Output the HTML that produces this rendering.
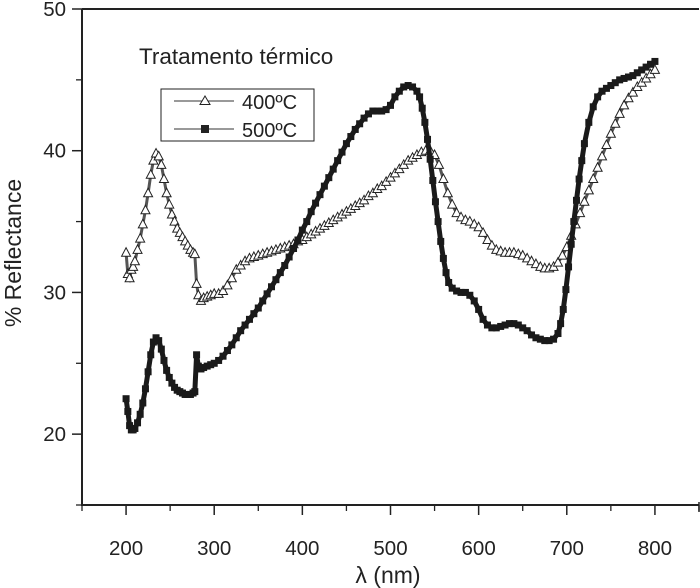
<!DOCTYPE html>
<html><head><meta charset="utf-8"><style>
html,body{margin:0;padding:0;background:#fff;}
svg{display:block;font-family:"Liberation Sans",Arial,sans-serif;}
</style></head><body>
<svg id="chart" width="700" height="588" viewBox="0 0 700 588" xmlns="http://www.w3.org/2000/svg">
<g id="axes"></g>
<g id="series"></g>
<text x="139" y="64" font-size="22.5" fill="#222">Tratamento térmico</text>
<g>
<rect x="161" y="89" width="153" height="52" fill="#fff" stroke="#222" stroke-width="1"/>
<g>
<line x1="174" y1="101" x2="234" y2="101" stroke="#333" stroke-width="1"/>
<polygon points="205,96 210,104.5 200,104.5" fill="#fff" stroke="#222" stroke-width="1"/>
<text x="242" y="109" font-size="20" fill="#222">400ºC</text>
</g>
<g>
<line x1="174" y1="129" x2="234" y2="129" stroke="#333" stroke-width="1"/>
<rect x="201" y="125" width="8" height="8" fill="#222"/>
<text x="242" y="137" font-size="20" fill="#222">500ºC</text>
</g>
</g>
<text x="388" y="583" font-size="23" text-anchor="middle" fill="#222">λ (nm)</text>
<text transform="translate(21,253) rotate(-90)" font-size="23" text-anchor="middle" fill="#222">% Reflectance</text>
</svg>
<script>
const xTicks = [200,300,400,500,600,700,800];
const xMinor = [150,250,350,450,550,650,750,850];
const yTicks = [20,30,40,50];
const yMinor = [15,25,35,45];
const lambda400 = [200,202,204,206,208,210,213,216,219,222,225,228,231,234,237,240,243,246,249,252,255,258,261,264,267,270,273,276,278,280,282,285,288,292,296,300,305,310,315,320,325,330,335,340,345,350,355,360,365,370,375,380,385,390,395,400,405,410,415,420,425,430,435,440,445,450,455,460,465,470,475,480,485,490,495,500,505,510,515,520,525,530,535,540,545,550,555,560,565,570,575,580,585,590,595,600,605,610,615,620,625,630,635,640,645,650,655,660,665,670,675,680,685,690,695,700,705,710,715,720,725,730,735,740,745,750,755,760,765,770,775,780,785,790,795,800];
const refl400 = [32.8,31.3,31.0,31.6,31.8,32.2,33.0,33.8,34.8,35.8,37.0,38.3,39.3,39.8,39.6,39.0,38.0,37.0,36.2,35.5,35.0,34.5,34.2,33.9,33.6,33.3,33.0,32.8,32.7,30.6,29.8,29.4,29.6,29.7,29.8,29.9,29.9,30.1,30.5,31.0,31.6,31.9,32.2,32.4,32.5,32.6,32.7,32.8,32.9,33.0,33.1,33.2,33.3,33.4,33.6,33.7,33.9,34.1,34.3,34.5,34.7,34.9,35.1,35.3,35.5,35.7,35.9,36.1,36.3,36.5,36.8,37.0,37.3,37.5,37.8,38.1,38.4,38.7,39.0,39.3,39.5,39.7,39.9,40.0,40.0,39.7,39.0,38.0,37.0,36.2,35.6,35.3,35.1,35.0,34.8,34.6,34.2,33.7,33.3,33.0,32.9,32.8,32.8,32.8,32.7,32.6,32.4,32.2,32.0,31.8,31.7,31.7,31.8,32.1,32.6,33.2,34.0,34.8,35.6,36.4,37.2,38.0,38.8,39.6,40.4,41.2,41.9,42.6,43.2,43.7,44.1,44.5,44.8,45.1,45.4,45.7];
const lambda500 = [200,202,204,206,208,210,213,216,219,222,225,228,231,234,237,240,243,246,249,252,255,258,261,264,267,270,273,276,278,280,282,285,288,292,296,300,305,310,315,320,325,330,335,340,345,350,355,360,365,370,375,380,385,390,395,400,405,410,415,420,425,430,435,440,445,450,455,460,465,470,475,480,485,490,495,500,505,510,515,520,525,530,533,536,539,542,545,548,551,554,557,560,563,566,570,575,580,585,590,595,600,605,610,615,620,625,630,635,640,645,650,655,660,665,670,675,680,685,690,693,696,699,702,705,708,711,714,717,720,725,730,735,740,745,750,755,760,765,770,775,780,785,790,795,800];
const refl500 = [22.5,21.6,20.6,20.3,20.3,20.4,20.8,21.4,22.2,23.2,24.4,25.6,26.5,26.8,26.6,26.0,25.2,24.5,24.0,23.6,23.3,23.1,23.0,22.9,22.8,22.8,22.8,22.9,23.0,25.6,24.8,24.6,24.7,24.8,24.9,25.0,25.2,25.5,25.9,26.3,26.8,27.3,27.7,28.1,28.5,28.9,29.4,29.9,30.4,30.9,31.4,31.9,32.5,33.1,33.7,34.4,35.0,35.7,36.3,36.9,37.5,38.1,38.7,39.3,39.9,40.5,41.0,41.5,41.9,42.3,42.6,42.8,42.8,42.8,42.9,43.2,43.8,44.2,44.5,44.6,44.5,44.2,43.8,43.0,42.0,40.8,39.4,37.9,36.4,35.0,33.6,32.4,31.4,30.7,30.3,30.1,30.0,30.0,29.8,29.4,28.8,28.1,27.7,27.5,27.5,27.6,27.7,27.8,27.8,27.7,27.5,27.3,27.0,26.8,26.7,26.6,26.6,26.7,27.1,27.8,28.8,30.2,31.8,33.4,35.0,36.5,38.0,39.3,40.5,42.0,43.1,43.8,44.2,44.4,44.6,44.8,45.0,45.1,45.2,45.3,45.5,45.7,45.9,46.1,46.3];

const NS='http://www.w3.org/2000/svg';
const L=82,R=699,T=9,B=505;
const xMin=150,xMax=850,yMin=15,yMax=50;
function sx(v){return L+(v-xMin)/(xMax-xMin)*(R-L);}
function sy(v){return B-(v-yMin)/(yMax-yMin)*(B-T);}
function mk(tag,attrs,parent){const e=document.createElementNS(NS,tag);for(const k in attrs)e.setAttribute(k,attrs[k]);parent.appendChild(e);return e;}
const axes=document.getElementById('axes');
const frame=mk('path',{d:`M${L},${T}H${R}M${L},${T}V${B}H${R}`,fill:'none',stroke:'#222','stroke-width':2},axes);


mk('line',{x1:R,y1:B-3,x2:R,y2:B+7,stroke:'#222','stroke-width':1.5},axes);
xTicks.forEach(v=>{
  const t=mk('line',{x1:sx(v),y1:B,x2:sx(v),y2:B+10,stroke:'#222','stroke-width':1.5},axes);
  
  
  const lb=mk('text',{x:sx(v),y:B+50,'font-size':20.5,'text-anchor':'middle',fill:'#222'},axes);
  lb.textContent=v;
  
  
});
xMinor.forEach(v=>{mk('line',{x1:sx(v),y1:B,x2:sx(v),y2:B+6,stroke:'#222','stroke-width':1.3},axes);});
yTicks.forEach(v=>{
  const t=mk('line',{x1:L-10,y1:sy(v),x2:L,y2:sy(v),stroke:'#222','stroke-width':1.5},axes);
  
  
  const lb=mk('text',{x:L-16,y:sy(v)+7,'font-size':20.5,'text-anchor':'end',fill:'#222'},axes);
  lb.textContent=v;
  
  
});
yMinor.forEach(v=>{mk('line',{x1:L-6,y1:sy(v),x2:L,y2:sy(v),stroke:'#222','stroke-width':1.3},axes);});

const ser=document.getElementById('series');
const g4=mk('g',{},ser);


mk('polyline',{points:lambda400.map((x,i)=>sx(x)+','+sy(refl400[i])).join(' '),fill:'none',stroke:'#555','stroke-width':3},g4);
lambda400.forEach((x,i)=>{
  const cx=sx(x),cy=sy(refl400[i]);
  const p=mk('polygon',{points:`${cx},${cy-5} ${cx+4.5},${cy+3.5} ${cx-4.5},${cy+3.5}`,fill:'#fff',stroke:'#222','stroke-width':1},g4);
  
  
});
const g5=mk('g',{},ser);


mk('polyline',{points:lambda500.map((x,i)=>sx(x)+','+sy(refl500[i])).join(' '),fill:'none',stroke:'#1a1a1a','stroke-width':5,'stroke-linejoin':'round'},g5);
lambda500.forEach((x,i)=>{
  const cx=sx(x),cy=sy(refl500[i]);
  const p=mk('rect',{x:cx-3.5,y:cy-3.5,width:7,height:7,fill:'#1a1a1a'},g5);
  
  
});
</script>
</body></html>
